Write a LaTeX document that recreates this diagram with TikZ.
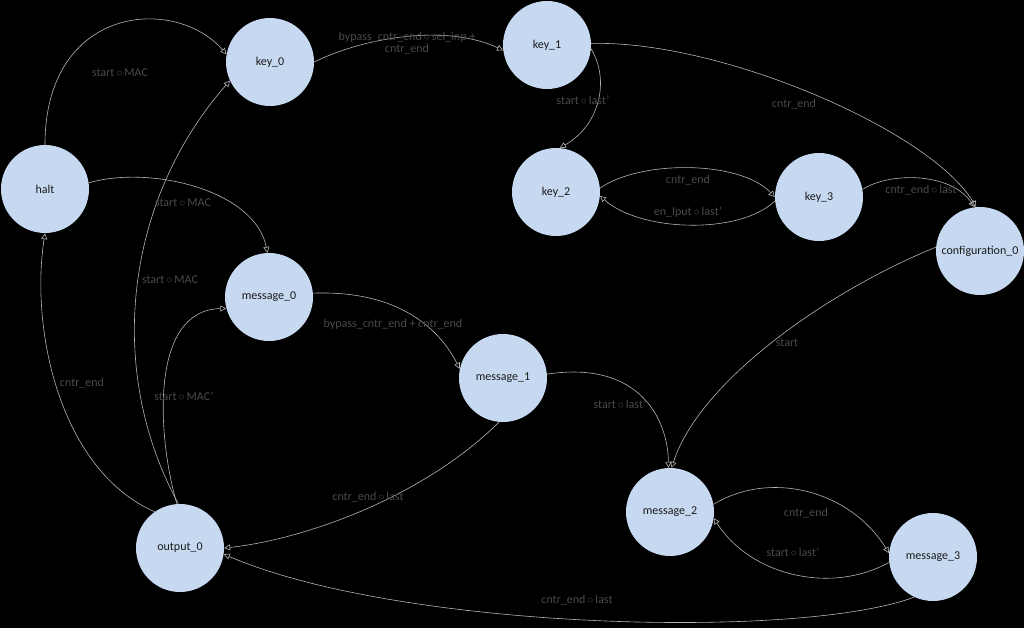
\documentclass[tikz,border=0pt]{standalone}
\usepackage{fontspec}
\setmainfont{Carlito}
\usetikzlibrary{arrows.meta}
\definecolor{nodefill}{HTML}{C6D9F1}
\definecolor{edgecol}{HTML}{B4B4B4}
\definecolor{labcol}{HTML}{4A4A4A}
\definecolor{txtcol}{HTML}{1A1A1A}
\newcommand{\cc}{\,$\circ$\,}
\begin{document}
\begin{tikzpicture}[x=1pt,y=-1pt,
  state/.style={circle,fill=nodefill,minimum size=88pt,inner sep=0pt,text=txtcol,font=\fontsize{12}{14}\selectfont},
  edge/.style={draw=edgecol,line width=0.6pt,-{Triangle[open,length=6pt,width=6pt]}},
  lab/.style={text=labcol,font=\fontsize{12}{14}\selectfont,inner sep=1pt,align=center}]
\fill[black] (0,0) rectangle (1024,628);
\useasboundingbox (0,0) rectangle (1024,628);
% nodes
\node[state] (halt) at (45,189) {halt};
\node[state] (key0) at (270,62) {key\_0};
\node[state] (key1) at (547,45) {key\_1};
\node[state] (key2) at (556,192) {key\_2};
\node[state] (key3) at (819,197) {key\_3};
\node[state] (conf) at (980,251) {configuration\_0};
\node[state] (msg0) at (269,297) {message\_0};
\node[state] (msg1) at (503,378) {message\_1};
\node[state] (msg2) at (670,512) {message\_2};
\node[state] (msg3) at (933,557) {message\_3};
\node[state] (out0) at (180,548) {output\_0};
% edges
\draw[edge] (halt.90) .. controls (45,5) and (175,-5) .. (key0.170);
\draw[edge] (halt.8) .. controls (150,165) and (255,190) .. (msg0.92);
\draw[edge] (out0.92) .. controls (105,370) and (125,200) .. (key0.205);
\draw[edge] (out0.94) .. controls (158,440) and (148,310) .. (msg0.195);
\draw[edge] (out0.125) .. controls (60,470) and (30,330) .. (halt.270);
\draw[edge] (key0.0) .. controls (370,35) and (450,25) .. (key1.187);
\draw[edge] (key1.355) .. controls (610,80) and (600,125) .. (key2.85);
\draw[edge] (key1.2) .. controls (720,40) and (930,130) .. (conf.95);
\draw[edge] (key2.5) .. controls (640,160) and (740,160) .. (key3.180);
\draw[edge] (key3.185) .. controls (740,235) and (640,232) .. (key2.355);
\draw[edge] (key3.10) .. controls (890,172) and (950,172) .. (conf.97);
\draw[edge] (conf.175) .. controls (830,290) and (700,380) .. (msg2.88);
\draw[edge] (msg0.5) .. controls (400,290) and (440,330) .. (msg1.168);
\draw[edge] (msg1.5) .. controls (640,360) and (668,420) .. (msg2.92);
\draw[edge] (msg1.265) .. controls (420,500) and (300,540) .. (out0.0);
\draw[edge] (msg2.10) .. controls (770,470) and (850,490) .. (msg3.175);
\draw[edge] (msg3.187) .. controls (830,595) and (750,575) .. (msg2.352);
\draw[edge] (msg3.245) .. controls (800,640) and (400,630) .. (out0.352);
% labels
\node[lab] (l1) at (120,73) {start\cc MAC};
\node[lab] (l2) at (183,203) {start\cc MAC};
\node[lab] (l3) at (170,280) {start\cc MAC};
\node[lab] (l4) at (184,396) {start\cc MAC'};
\node[lab] (l5) at (82,383) {cntr\_end};
\node[lab] (l6) at (407,43) {bypass\_cntr\_end\cc sel\_inp +\\[-2pt]cntr\_end};
\node[lab] (l7) at (583,100) {start\cc last'};
\node[lab] (l8) at (794,104) {cntr\_end};
\node[lab] (l9) at (688,180) {cntr\_end};
\node[lab] (l10) at (688,212) {en\_Iput\cc last'};
\node[lab] (l11) at (921,190) {cntr\_end\cc last};
\node[lab] (l12) at (787,343) {start};
\node[lab] (l13) at (393,324) {bypass\_cntr\_end + cntr\_end};
\node[lab] (l14) at (620,404) {start\cc last'};
\node[lab] (l15) at (368,497) {cntr\_end\cc last};
\node[lab] (l16) at (806,513) {cntr\_end};
\node[lab] (l17) at (793,552) {start\cc last'};
\node[lab] (l18) at (577,600) {cntr\_end\cc last};
\end{tikzpicture}
\end{document}
